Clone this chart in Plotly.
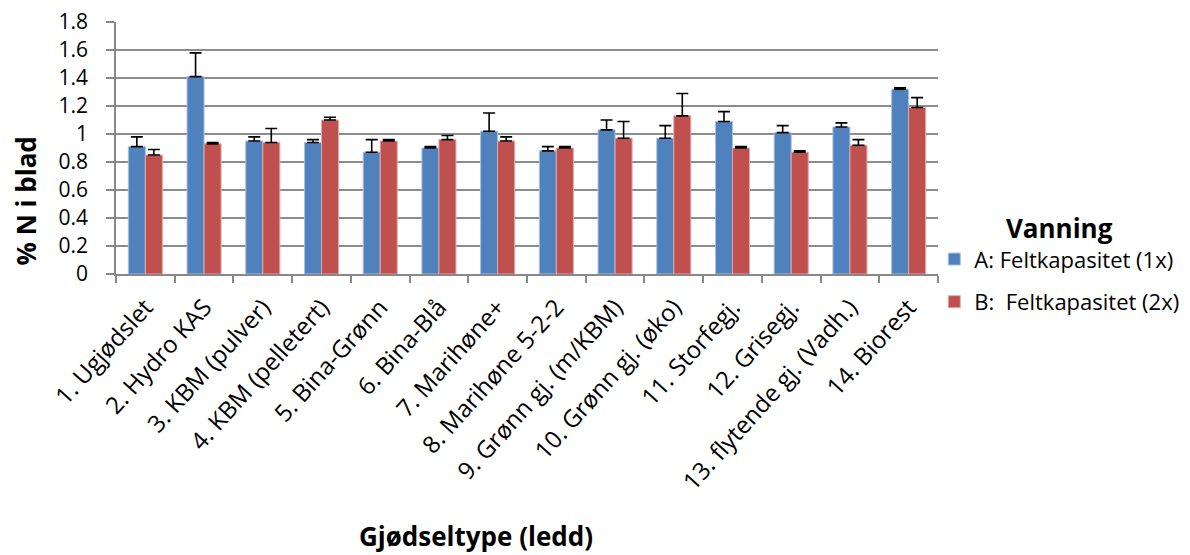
import plotly.graph_objects as go

categories = ["1. Ugjødslet", "2. Hydro KAS", "3. KBM (pulver)", "4. KBM (pelletert)",
              "5. Bina-Grønn", "6. Bina-Blå", "7. Marihøne+", "8. Marihøne 5-2-2",
              "9. Grønn gj. (m/KBM)", "10. Grønn gj. (øko)", "11. Storfegj.", "12. Grisegj.",
              "13. flytende gj. (Vadh.)", "14. Biorest"]
series_a_name = "A: Feltkapasitet (1x)"
series_b_name = "B:  Feltkapasitet (2x)"
values_a = [0.91, 1.41, 0.95, 0.94, 0.87, 0.90, 1.02, 0.88, 1.03, 0.97, 1.09, 1.01, 1.05, 1.32]
errors_a = [0.07, 0.17, 0.03, 0.02, 0.09, 0.01, 0.13, 0.03, 0.07, 0.09, 0.07, 0.05, 0.03, 0.01]
values_b = [0.85, 0.93, 0.94, 1.10, 0.95, 0.96, 0.95, 0.90, 0.97, 1.13, 0.90, 0.87, 0.92, 1.19]
errors_b = [0.04, 0.01, 0.10, 0.02, 0.01, 0.03, 0.03, 0.01, 0.12, 0.16, 0.01, 0.01, 0.04, 0.07]
y_ticks = [0, 0.2, 0.4, 0.6, 0.8, 1, 1.2, 1.4, 1.6, 1.8]
y_tick_labels = ["0", "0.2", "0.4", "0.6", "0.8", "1", "1.2", "1.4", "1.6", "1.8"]

FONT = "'Open Sans', Lato, sans-serif"
BLUE = "#4f81bd"
RED = "#c0504d"

fig = go.Figure()
fig.add_trace(go.Bar(
    x=categories, y=values_a, name=series_a_name, legendgroup="a",
    marker=dict(color=BLUE, line=dict(color="#a9c1e0", width=1)),
    error_y=dict(type="data", array=errors_a, symmetric=False, arrayminus=[0] * len(errors_a),
                 color="black", thickness=1.6, width=6),
))
fig.add_trace(go.Bar(
    x=categories, y=values_b, name=series_b_name, legendgroup="b",
    marker=dict(color=RED, line=dict(color="#e0a9a8", width=1)),
    error_y=dict(type="data", array=errors_b, symmetric=False, arrayminus=[0] * len(errors_b),
                 color="black", thickness=1.6, width=6),
))

# the page body adds an 8px margin, so the figure is sized/offset to compensate
fig.update_layout(
    width=1182, height=547,
    margin=dict(l=108, r=252, t=14, b=281, autoexpand=False),
    paper_bgcolor="white", plot_bgcolor="white",
    barmode="group", bargap=0.42, bargroupgap=0,
    font=dict(family=FONT, color="black"),
    showlegend=True,
    legend=dict(
        x=0.9955, xanchor="left", y=0.276, yanchor="top",
        title=dict(text="<b>Vanning</b>", font=dict(size=26, family=FONT), side="top center"),
        font=dict(size=22, family=FONT),
        tracegroupgap=11, itemwidth=30,
        bgcolor="rgba(0,0,0,0)",
    ),
)
fig.update_xaxes(
    type="category", tickangle=-48, tickfont=dict(size=24, family=FONT),
    showline=True, linecolor="#888888", linewidth=1.5,
    ticks="outside", tickson="boundaries", ticklen=7, tickcolor="#888888", tickwidth=1.5,
    ticklabelstandoff=8,
    showgrid=False, automargin=False,
)
fig.update_yaxes(
    range=[0, 1.8005], tickvals=y_ticks, ticktext=y_tick_labels,
    tickfont=dict(size=21, family=FONT),
    showline=True, linecolor="#888888", linewidth=1.5,
    ticks="outside", ticklen=8, tickcolor="#888888", tickwidth=1.5,
    ticklabelstandoff=14, ticklabeloverflow="allow",
    showgrid=True, gridcolor="#8c8c8c", gridwidth=1.5,
    zeroline=False, automargin=False,
)
fig.add_annotation(text="<b>% N i blad</b>", xref="paper", yref="paper",
                   x=-0.11, y=0.29, textangle=-90, showarrow=False,
                   font=dict(size=26, family=FONT), xanchor="center", yanchor="middle")
fig.add_annotation(text="<b>Gjødseltype (ledd)</b>", xref="paper", yref="paper",
                   x=0.438, y=-1.04, showarrow=False,
                   font=dict(size=26, family=FONT), xanchor="center", yanchor="middle")

fig.write_html("out.html")
